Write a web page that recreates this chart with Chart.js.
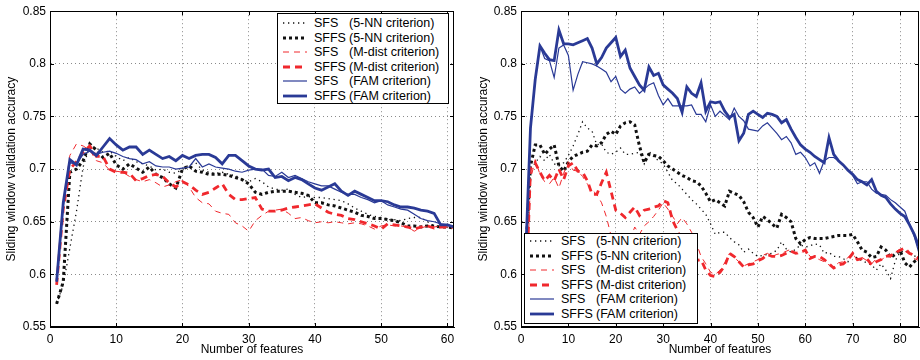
<!DOCTYPE html>
<html lang="en">
<head>
<meta charset="UTF-8">
<title>Sliding window validation accuracy</title>
<script src="https://cdn.jsdelivr.net/npm/chart.js"></script>
<style>
  body { margin: 0; background: #fff; font-family: "Liberation Sans", Arial, sans-serif; }
  #wrap { position: relative; width: 920px; height: 360px; overflow: hidden; }
  .panel { position: absolute; top: 0; height: 360px; }
  .legend { position: absolute; background: #fff; border: 1px solid #000; box-sizing: border-box;
            padding-left: 5px; font-size: 12.5px; color: #000; z-index: 2; }
  .legend .row { height: 14.5px; display: flex; align-items: center; white-space: nowrap; }
  .legend svg { width: 24px; height: 8px; margin-right: 7px; flex: none; }
  .legend .nm { display: inline-block; width: 35px; }
</style>
</head>
<body>
<div id="wrap">
  <div class="panel" style="left:0;width:465px"><canvas id="left" width="465" height="360"></canvas></div>
  <div class="panel" style="left:470px;width:450px"><canvas id="right" width="450" height="360"></canvas></div>
  <div class="legend" id="legLeft" style="left:277px;top:13px;width:172px;height:91px;padding-top:2px"></div>
  <div class="legend" id="legRight" style="left:524px;top:233px;width:174px;height:91px;padding-top:0"></div>
</div>

<script>
// series order: SFS 5-NN, SFFS 5-NN, SFS M-dist, SFFS M-dist, SFS FAM, SFFS FAM
const methods = ['SFS', 'SFFS', 'SFS', 'SFFS', 'SFS', 'SFFS'];
const criteria = ['(5-NN criterion)', '(5-NN criterion)', '(M-dist criterion)', '(M-dist criterion)', '(FAM criterion)', '(FAM criterion)'];

const yTicks = [0.55, 0.6, 0.65, 0.7, 0.75, 0.8, 0.85];
const xTicksLeft = [0, 10, 20, 30, 40, 50, 60];
const xTicksRight = [0, 10, 20, 30, 40, 50, 60, 70, 80];

// left panel, features 1..61
const leftSfs5nn = [0.572,0.590,0.625,0.660,0.702,0.722,0.720,0.716,0.717,0.712,0.708,0.711,0.707,0.705,0.703,0.699,0.700,0.697,0.696,0.700,
  0.704,0.706,0.699,0.697,0.696,0.697,0.695,0.694,0.690,0.688,0.691,0.688,0.683,0.681,0.680,0.681,0.676,0.673,0.674,0.673,
  0.673,0.672,0.671,0.670,0.667,0.663,0.660,0.657,0.655,0.654,0.652,0.652,0.651,0.653,0.654,0.654,0.650,0.646,0.645,0.645,0.644];
const leftSffs5nn = [0.572,0.593,0.697,0.700,0.708,0.724,0.718,0.711,0.715,0.704,0.700,0.705,0.701,0.697,0.702,0.695,0.692,0.686,0.682,0.700,
  0.703,0.698,0.697,0.695,0.695,0.695,0.694,0.692,0.690,0.686,0.678,0.676,0.678,0.679,0.679,0.679,0.678,0.677,0.675,0.668,
  0.668,0.666,0.665,0.663,0.661,0.659,0.656,0.655,0.653,0.653,0.652,0.651,0.649,0.646,0.646,0.645,0.646,0.646,0.645,0.645,0.644];
const leftSfsMdist = [0.595,0.668,0.713,0.724,0.722,0.718,0.708,0.706,0.699,0.698,0.697,0.693,0.690,0.688,0.690,0.687,0.683,0.685,0.688,0.690,
  0.683,0.673,0.668,0.667,0.660,0.658,0.657,0.649,0.646,0.641,0.651,0.656,0.660,0.661,0.662,0.658,0.653,0.654,0.651,0.649,
  0.650,0.649,0.650,0.649,0.648,0.649,0.648,0.646,0.643,0.646,0.647,0.646,0.646,0.645,0.641,0.644,0.646,0.645,0.646,0.645,0.644];
const leftSffsMdist = [0.590,0.662,0.700,0.707,0.716,0.722,0.712,0.712,0.700,0.697,0.697,0.696,0.689,0.691,0.694,0.695,0.693,0.687,0.683,0.688,
  0.685,0.680,0.676,0.678,0.682,0.686,0.676,0.671,0.671,0.672,0.673,0.662,0.660,0.660,0.661,0.663,0.664,0.665,0.666,0.667,
  0.663,0.659,0.657,0.656,0.653,0.652,0.650,0.648,0.646,0.643,0.648,0.647,0.646,0.645,0.643,0.645,0.646,0.644,0.645,0.645,0.645];
const leftSfsFam = [0.593,0.665,0.706,0.705,0.714,0.717,0.714,0.716,0.717,0.715,0.712,0.710,0.709,0.705,0.707,0.703,0.702,0.702,0.700,0.701,
  0.702,0.710,0.702,0.705,0.702,0.701,0.700,0.698,0.697,0.699,0.700,0.700,0.694,0.693,0.697,0.692,0.694,0.691,0.688,0.686,
  0.684,0.684,0.681,0.678,0.676,0.676,0.673,0.671,0.668,0.670,0.666,0.664,0.662,0.661,0.657,0.653,0.651,0.650,0.648,0.647,0.645];
const leftSffsFam = [0.593,0.668,0.709,0.704,0.719,0.718,0.713,0.721,0.729,0.723,0.718,0.721,0.721,0.714,0.718,0.714,0.710,0.712,0.708,0.713,
  0.710,0.713,0.714,0.714,0.711,0.705,0.713,0.713,0.708,0.703,0.700,0.699,0.700,0.692,0.693,0.689,0.692,0.690,0.686,0.682,
  0.680,0.683,0.686,0.679,0.675,0.679,0.676,0.673,0.670,0.670,0.669,0.666,0.664,0.664,0.663,0.661,0.660,0.658,0.647,0.647,0.645];

// right panel, features 1..84
const rightSfs5nn = [0.620,0.700,0.706,0.712,0.708,0.714,0.705,0.703,0.706,0.713,0.722,0.733,0.745,0.739,0.736,0.723,0.724,0.716,0.714,0.716,
  0.720,0.714,0.714,0.715,0.716,0.705,0.717,0.712,0.708,0.705,0.697,0.689,0.686,0.681,0.676,0.671,0.667,0.662,0.657,0.648,
  0.638,0.640,0.640,0.635,0.631,0.628,0.621,0.624,0.620,0.617,0.618,0.619,0.620,0.623,0.631,0.624,0.621,0.624,0.628,0.626,
  0.627,0.629,0.628,0.620,0.621,0.617,0.617,0.615,0.612,0.620,0.615,0.613,0.611,0.609,0.604,0.610,0.604,0.596,0.613,0.621,
  0.623,0.620,0.617,0.619];
const rightSffs5nn = [0.620,0.703,0.723,0.723,0.714,0.719,0.723,0.703,0.698,0.707,0.712,0.714,0.716,0.717,0.723,0.722,0.725,0.733,0.736,0.733,
  0.741,0.744,0.745,0.742,0.722,0.706,0.714,0.713,0.712,0.708,0.703,0.700,0.697,0.694,0.692,0.689,0.688,0.684,0.677,0.669,
  0.671,0.668,0.665,0.679,0.677,0.675,0.669,0.659,0.654,0.645,0.655,0.652,0.648,0.644,0.657,0.654,0.650,0.634,0.629,0.633,
  0.635,0.634,0.634,0.634,0.635,0.636,0.637,0.637,0.637,0.638,0.631,0.623,0.621,0.616,0.617,0.626,0.623,0.616,0.619,0.623,
  0.611,0.607,0.612,0.616];
const rightSfsMdist = [0.560,0.690,0.709,0.695,0.688,0.686,0.692,0.682,0.696,0.707,0.699,0.698,0.693,0.686,0.680,0.676,0.668,0.655,0.637,0.625,
  0.618,0.622,0.632,0.645,0.638,0.646,0.650,0.655,0.661,0.668,0.662,0.655,0.648,0.654,0.648,0.640,0.630,0.617,0.610,0.602,
  0.600,0.604,0.611,0.620,0.616,0.612,0.608,0.610,0.612,0.614,0.618,0.620,0.617,0.619,0.620,0.622,0.624,0.620,0.619,0.624,
  0.617,0.616,0.614,0.612,0.609,0.607,0.611,0.612,0.616,0.620,0.613,0.616,0.613,0.610,0.615,0.613,0.618,0.616,0.621,0.624,
  0.622,0.619,0.615,0.613];
const rightSffsMdist = [0.570,0.700,0.706,0.697,0.689,0.694,0.689,0.700,0.690,0.703,0.706,0.698,0.697,0.689,0.676,0.676,0.687,0.697,0.679,0.661,
  0.658,0.654,0.659,0.664,0.656,0.661,0.662,0.664,0.665,0.670,0.668,0.651,0.642,0.630,0.617,0.610,0.613,0.614,0.604,0.599,
  0.598,0.602,0.608,0.620,0.617,0.612,0.607,0.609,0.610,0.613,0.615,0.619,0.617,0.617,0.618,0.620,0.622,0.620,0.621,0.623,
  0.615,0.617,0.617,0.614,0.610,0.606,0.609,0.610,0.614,0.620,0.614,0.615,0.615,0.609,0.612,0.614,0.617,0.618,0.620,0.623,
  0.625,0.620,0.618,0.615];
const rightSfsFam = [0.615,0.739,0.785,0.817,0.805,0.803,0.787,0.815,0.818,0.808,0.775,0.790,0.802,0.801,0.800,0.798,0.795,0.792,0.783,0.788,
  0.776,0.772,0.776,0.778,0.772,0.776,0.780,0.782,0.770,0.761,0.767,0.760,0.760,0.760,0.760,0.761,0.752,0.752,0.745,0.761,
  0.750,0.755,0.751,0.747,0.758,0.750,0.746,0.738,0.737,0.736,0.741,0.744,0.739,0.734,0.728,0.731,0.725,0.714,0.716,0.711,
  0.703,0.706,0.696,0.708,0.711,0.711,0.708,0.704,0.699,0.694,0.686,0.688,0.688,0.681,0.677,0.676,0.675,0.671,0.668,0.664,
  0.660,0.648,0.636,0.620];
const rightSffsFam = [0.620,0.739,0.785,0.817,0.810,0.804,0.803,0.832,0.819,0.819,0.818,0.820,0.822,0.824,0.815,0.800,0.806,0.815,0.820,0.825,
  0.807,0.813,0.796,0.788,0.780,0.775,0.797,0.789,0.791,0.780,0.776,0.772,0.767,0.754,0.778,0.772,0.769,0.782,0.755,0.764,
  0.763,0.764,0.755,0.749,0.752,0.727,0.734,0.752,0.755,0.752,0.749,0.753,0.752,0.750,0.744,0.747,0.738,0.730,0.723,0.719,
  0.716,0.712,0.709,0.706,0.730,0.714,0.708,0.704,0.699,0.695,0.690,0.688,0.685,0.690,0.679,0.675,0.673,0.667,0.662,0.658,
  0.655,0.647,0.638,0.626];

// line looks, same order as the series
const BLACK = '#111111', RED = '#f0282d', BLUE = '#2a3a96';
const looks = [
  { color: BLACK, width: 1.3, dash: [1.3, 3.7] },
  { color: BLACK, width: 3, dash: [3, 3] },
  { color: RED, width: 1, dash: [6, 5] },
  { color: RED, width: 2.8, dash: [7, 5] },
  { color: BLUE, width: 1.2, dash: [] },
  { color: BLUE, width: 2.8, dash: [] }
];

const FONT = '"Liberation Sans", Arial, sans-serif';

// frame + inward tick marks like matlab
const boxPlugin = {
  id: 'box',
  afterDraw(chart) {
    const { ctx, chartArea: a, scales } = chart;
    ctx.save();
    ctx.strokeStyle = '#000';
    ctx.lineWidth = 1;
    ctx.beginPath();
    scales.x.ticks.forEach(t => {
      const px = Math.round(scales.x.getPixelForValue(t.value)) + 0.5;
      ctx.moveTo(px, a.bottom); ctx.lineTo(px, a.bottom - 4);
      ctx.moveTo(px, a.top); ctx.lineTo(px, a.top + 4);
    });
    scales.y.ticks.forEach(t => {
      const py = Math.round(scales.y.getPixelForValue(t.value)) + 0.5;
      ctx.moveTo(a.left, py); ctx.lineTo(a.left + 4, py);
      ctx.moveTo(a.right, py); ctx.lineTo(a.right - 4, py);
    });
    ctx.stroke();
    ctx.strokeRect(Math.round(a.left) + 0.5, Math.round(a.top) + 0.5, Math.round(a.width) - 1, Math.round(a.height) - 1);
    ctx.restore();
  }
};

function makeChart(id, seriesList, xMax, xTicks, pad, yWidth) {
  const datasets = seriesList.map((vals, i) => ({
    label: methods[i] + ' ' + criteria[i],
    data: vals.map((v, k) => ({ x: k + 1, y: v })),
    borderColor: looks[i].color,
    borderWidth: looks[i].width,
    borderDash: looks[i].dash,
    borderCapStyle: 'butt',
    pointRadius: 0,
    fill: false,
    tension: 0,
    order: 6 - i
  }));

  return new Chart(document.getElementById(id), {
    type: 'line',
    data: { datasets: datasets },
    options: {
      responsive: false,
      animation: false,
      layout: { padding: pad },
      plugins: { legend: { display: false }, tooltip: { enabled: false } },
      scales: {
        x: {
          type: 'linear',
          min: 0,
          max: xMax,
          afterBuildTicks: s => { s.ticks = xTicks.map(v => ({ value: v })); },
          afterFit: s => { s.height = 33; },
          ticks: { color: '#000', font: { family: FONT, size: 12 }, padding: 5, maxRotation: 0, includeBounds: false },
          grid: { color: '#8a8a8a', lineWidth: 1, drawTicks: false },
          border: { color: '#000', dash: [1, 3] },
          title: { display: true, text: 'Number of features', color: '#000',
                   font: { family: FONT, size: 12 }, padding: { top: 0, bottom: 3 } }
        },
        y: {
          min: 0.55,
          max: 0.85,
          afterBuildTicks: s => { s.ticks = yTicks.map(v => ({ value: v })); },
          afterFit: s => { s.width = yWidth; },
          ticks: { color: '#000', font: { family: FONT, size: 12 }, padding: 4,
                   callback: v => String(+v.toFixed(2)) },
          grid: { color: '#8a8a8a', lineWidth: 1, drawTicks: false },
          border: { color: '#000', dash: [1, 3] },
          title: { display: true, text: 'Sliding window validation accuracy', color: '#000',
                   font: { family: FONT, size: 12 }, padding: { top: 4, bottom: 0 } }
        }
      }
    },
    plugins: [boxPlugin]
  });
}

function buildLegend(id) {
  const box = document.getElementById(id);
  looks.forEach((lk, i) => {
    const row = document.createElement('div');
    row.className = 'row';
    const dash = lk.dash.length ? lk.dash.join(' ') : 'none';
    row.innerHTML =
      '<svg viewBox="0 0 24 8"><line x1="0" y1="4" x2="24" y2="4" stroke="' + lk.color +
      '" stroke-width="' + lk.width + '" stroke-dasharray="' + dash + '"/></svg>' +
      '<span class="nm">' + methods[i] + '</span><span>' + criteria[i] + '</span>';
    box.appendChild(row);
  });
}

makeChart('left', [leftSfs5nn, leftSffs5nn, leftSfsMdist, leftSffsMdist, leftSfsFam, leftSffsFam],
          61, xTicksLeft, { left: 0, right: 11, top: 9, bottom: 0 }, 50);
makeChart('right', [rightSfs5nn, rightSffs5nn, rightSfsMdist, rightSffsMdist, rightSfsFam, rightSffsFam],
          84, xTicksRight, { left: 2, right: 1, top: 9, bottom: 0 }, 49);
buildLegend('legLeft');
buildLegend('legRight');
</script>
</body>
</html>
